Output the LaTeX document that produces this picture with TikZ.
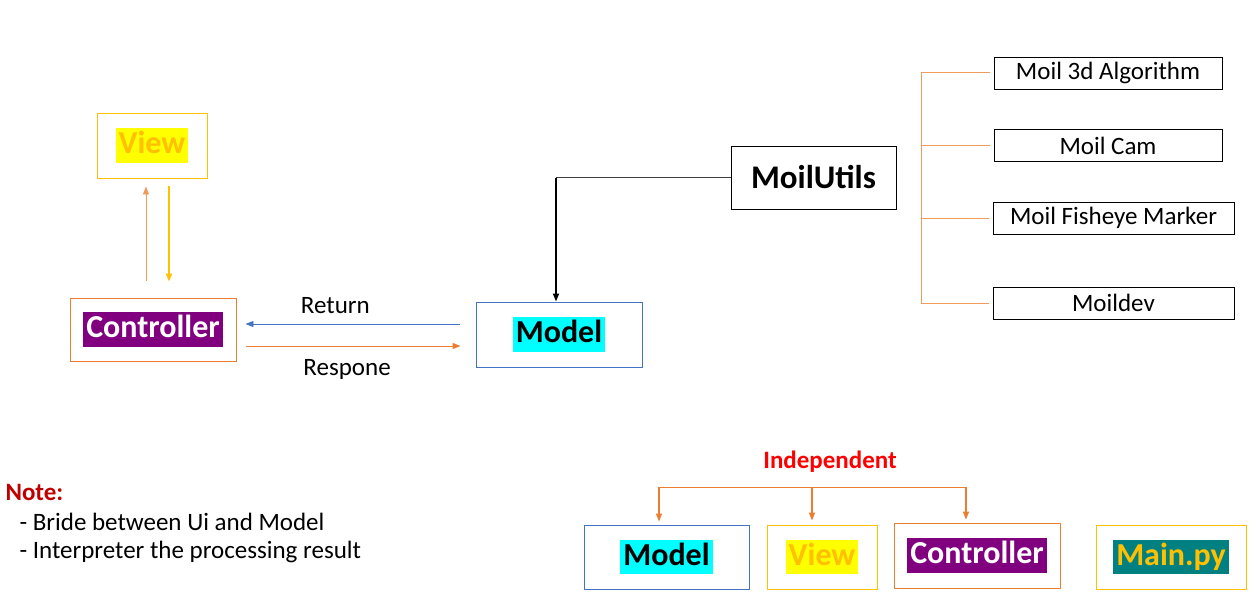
\documentclass[tikz,border=0pt]{standalone}
\usepackage{fontspec}
\setmainfont{Carlito}
\usetikzlibrary{arrows.meta,positioning,calc}
\definecolor{mvcorange}{HTML}{ED7D31}
\definecolor{mvclight}{HTML}{F09A5C}
\definecolor{mvcgold}{HTML}{FFC000}
\definecolor{mvcblue}{HTML}{4472C4}
\definecolor{mvcpurple}{HTML}{800080}
\definecolor{mvcteal}{HTML}{008080}
\definecolor{mvccyan}{HTML}{00FFFF}
\definecolor{mvcyellow}{HTML}{FFFF00}
\definecolor{notered}{HTML}{C00000}
\newcommand{\bigfont}{\fontsize{32}{36}\selectfont\bfseries}
\newcommand{\smallfont}{\fontsize{25}{29}\selectfont}
\newcommand{\hl}[3]{{\setlength{\fboxsep}{3pt}\colorbox{#1}{\textcolor{#2}{\rule[-0.2em]{0pt}{0.88em}#3}}}}
\tikzset{
	box/.style={draw, line width=0.9pt, inner sep=0pt},
	modbox/.style={draw, line width=0.9pt, minimum height=32pt, font=\smallfont, inner sep=0pt},
	tip/.style={-{Triangle[length=8pt,width=6pt]}},
	branch/.style={mvclight, line width=1pt}
}

\begin{document}
\begin{tikzpicture}[x=1pt,y=-1pt]
	\useasboundingbox (0,0) rectangle (1256,610);

	% MVC loop
	\node[box, draw=mvcgold, minimum width=110pt, minimum height=65pt, font=\bigfont] (view) at (152,145.5) {\hl{mvcyellow}{mvcgold}{View}};
	\node[box, draw=mvcorange, minimum width=166pt, minimum height=63pt, font=\bigfont] (ctrl) at (153,329.5) {\hl{mvcpurple}{white}{Controller}};
	\node[box, draw=mvcblue, minimum width=166pt, minimum height=65pt, font=\bigfont] (model) at (559,334.5) {\hl{mvccyan}{black}{Model}};
	\node[box, minimum width=165pt, minimum height=63pt, font=\fontsize{33}{37}\selectfont\bfseries] (utils) at (813.5,177.5) {MoilUtils};

	\draw[tip, mvclight, line width=0.9pt] ([xshift=-7pt,yshift=17pt]ctrl.north) -- ([xshift=-6pt,yshift=-8pt]view.south);
	\draw[tip, mvcgold, line width=1.6pt] ([xshift=17pt,yshift=-8pt]view.south) -- ([xshift=16pt,yshift=16pt]ctrl.north);

	\draw[tip, mvcblue, line width=0.9pt] ([xshift=-16pt,yshift=10.5pt]model.west) -- node[pos=0.58, above=7pt, black, font=\smallfont] (ret) {Return} ([xshift=9pt,yshift=5.5pt]ctrl.east);
	\draw[tip, mvcorange, line width=0.9pt] ([xshift=10pt,yshift=-16.5pt]ctrl.east) -- node[pos=0.47, below=10pt, black, font=\smallfont] (resp) {Respone} ([xshift=-15pt,yshift=-11.5pt]model.west);

	\coordinate (bend) at ([xshift=-3pt]model.north |- utils.west);
	\draw[black!75, line width=0.9pt] (utils.west) -- (bend);
	\draw[tip, line width=1.8pt] (bend) -- (bend |- model.north);

	% utility modules
	\node[modbox, minimum width=228pt] (algo) at (1108,73) {Moil 3d Algorithm};
	\node[modbox, minimum width=228pt] (cam) at (1108,145.5) {Moil Cam};
	\node[modbox, minimum width=241pt] (fish) at (1113.5,218) {Moil Fisheye Marker};
	\node[modbox, minimum width=241pt] (dev) at (1113.5,303) {Moildev};

	\coordinate (trunk) at (921,72);
	\draw[branch] (trunk) -- (trunk |- dev.west);
	\foreach \m in {algo,cam,fish,dev}
		\draw[branch] (trunk |- \m.west) -- ([xshift=-4pt]\m.west);

	% note
	\node[anchor=west, font=\smallfont\bfseries, text=notered] (note) at (2,492) {Note:};
	\node[anchor=west, font=\smallfont] (note1) at (16,522) {- Bride between Ui and Model};
	\node[anchor=west, font=\smallfont] (note2) at (16,552) {- Interpreter the processing result};

	% independent parts
	\node[box, draw=mvcblue, minimum width=165pt, minimum height=64pt, font=\bigfont] (bmodel) at (666.5,557) {\hl{mvccyan}{black}{Model}};
	\node[box, draw=mvcgold, minimum width=110pt, minimum height=64pt, font=\bigfont] (bview) at (822,557) {\hl{mvcyellow}{mvcgold}{View}};
	\node[box, draw=mvcorange, minimum width=166pt, minimum height=65pt, font=\bigfont] (bctrl) at (977,555.5) {\hl{mvcpurple}{white}{Controller}};
	\node[box, draw=mvcgold, minimum width=150pt, minimum height=64pt, font=\bigfont] (bmain) at (1171,557) {\hl{mvcteal}{mvcgold}{Main.py}};

	\node[font=\smallfont\bfseries, text=red] (indep) at (830,462) {Independent};
	\coordinate (brL) at (659,487);
	\coordinate (brM) at (812,487);
	\coordinate (brR) at (966,487);
	\draw[mvcorange, line width=0.9pt] (brL) -- (brR);
	\draw[tip, mvcorange, line width=1.2pt] (brL) -- ([yshift=3pt]brL |- bmodel.north);
	\draw[tip, mvcorange, line width=1.2pt] (brM) -- ([yshift=4pt]brM |- bview.north);
	\draw[tip, mvcorange, line width=1.2pt] (brR) -- ([yshift=3pt]brR |- bctrl.north);
\end{tikzpicture}
\end{document}
